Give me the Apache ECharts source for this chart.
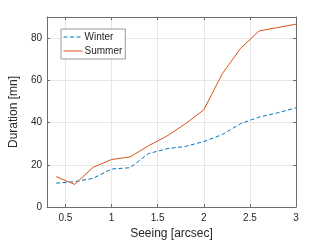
<!DOCTYPE html>
<html><head><meta charset="utf-8">
<script src="https://cdn.jsdelivr.net/npm/echarts@6/dist/echarts.min.js"></script>
<style>html,body{margin:0;padding:0;background:#fff}#c{width:327px;height:245px}</style>
</head><body><div id="c"></div>
<script>
const seeing = [0.4, 0.6, 0.8, 1.0, 1.2, 1.4, 1.6, 1.8, 2.0, 2.2, 2.4, 2.6, 2.8, 3.0];
const winter = [11.3, 12.0, 13.6, 18.0, 18.6, 25.3, 27.6, 28.7, 31.0, 34.3, 39.5, 42.6, 44.6, 47.0];
const summer = [14.4, 10.7, 18.8, 22.5, 23.7, 29.0, 33.6, 39.4, 46.0, 63.1, 75.2, 83.4, 85.0, 86.6];
const xTicks = [0.5, 1, 1.5, 2, 2.5, 3];
const yTicks = [0, 20, 40, 60, 80];

const font = 'Liberation Sans, Arial, sans-serif';
const axisCol = '#6e6e6e';
const chart = echarts.init(document.getElementById('c'));
const pair = (xs, ys) => xs.map((x, i) => [x, ys[i]]);
const baseX = {
  type: 'value', min: 0.3, max: 3,
  axisLine: {show: true, onZero: false, lineStyle: {color: axisCol, width: 1}},
  axisTick: {show: true, inside: true, length: 3, lineStyle: {color: axisCol},
    customValues: xTicks},
  splitLine: {show: false},
  axisLabel: {show: false}
};
const baseY = {
  type: 'value', min: 0, max: 90,
  axisLine: {show: true, lineStyle: {color: axisCol, width: 1}},
  axisTick: {show: true, inside: true, length: 3, lineStyle: {color: axisCol},
    customValues: yTicks},
  splitLine: {show: false},
  axisLabel: {show: false}
};
chart.setOption({
  animation: false,
  textStyle: {fontFamily: font},
  grid: {left: 42, right: 31, top: 17, bottom: 34, containLabel: false},
  legend: {
    orient: 'vertical', left: 61, top: 29, padding: [3, 3, 3, 2],
    borderColor: '#9a9a9a', borderWidth: 1, backgroundColor: '#fff',
    borderRadius: 0,
    itemWidth: 19, itemHeight: 10, itemGap: 4,
    itemStyle: {opacity: 0},
    lineStyle: {width: 1},
    textStyle: {fontFamily: font, fontSize: 10, color: '#262626', padding: [0, 0, 0, -3]},
    data: ['Winter', 'Summer']
  },
  xAxis: [
    Object.assign({}, baseX, {
      position: 'bottom',
      name: 'Seeing [arcsec]', nameLocation: 'middle', nameGap: 21,
      nameTextStyle: {fontFamily: font, fontSize: 12, color: '#262626'},
      splitLine: {show: true, lineStyle: {color: '#e6e6e6', width: 1}, customValues: xTicks},
      axisLabel: {show: true, customValues: xTicks, fontSize: 10, color: '#262626', margin: 6,
        formatter: v => String(v)}
    }),
    Object.assign({}, baseX, {position: 'top'})
  ],
  yAxis: [
    Object.assign({}, baseY, {
      position: 'left',
      name: 'Duration [mn]', nameLocation: 'middle', nameGap: 19,
      nameTextStyle: {fontFamily: font, fontSize: 12, color: '#262626'},
      splitLine: {show: true, lineStyle: {color: '#e6e6e6', width: 1}, customValues: yTicks},
      axisLabel: {show: true, customValues: yTicks, fontSize: 10, color: '#262626', margin: 5}
    }),
    Object.assign({}, baseY, {position: 'right'})
  ],
  series: [
    {name: 'Winter', type: 'line', data: pair(seeing, winter), showSymbol: false, symbol: 'none',
      color: '#0072BD', lineStyle: {color: '#0072BD', width: 1, type: [4, 2.5]}},
    {name: 'Summer', type: 'line', data: pair(seeing, summer), showSymbol: false, symbol: 'none',
      color: '#D95319', lineStyle: {color: '#D95319', width: 1}}
  ]
});
</script></body></html>
